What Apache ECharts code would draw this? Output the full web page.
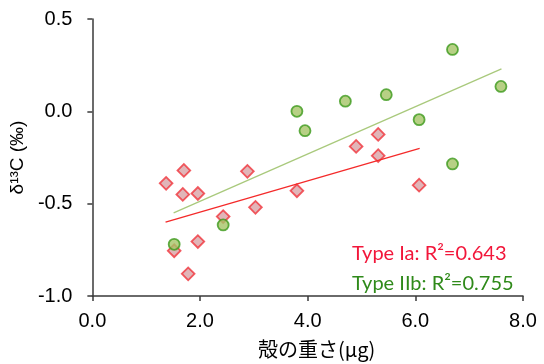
<!DOCTYPE html>
<html>
<head>
<meta charset="utf-8">
<script src="https://cdn.jsdelivr.net/npm/echarts@6/dist/echarts.min.js"></script>
<style>
  html, body { margin: 0; padding: 0; background: #fff; }
  #chart { width: 544px; height: 364px; }
</style>
</head>
<body>
<div id="chart"></div>
<script>
// Type Ia (red diamonds): [weight, d13C]
var typeIa = [
    [1.37, -0.39], [1.70, -0.32], [1.68, -0.45], [1.96, -0.445], [2.88, -0.325],
    [2.43, -0.57], [3.03, -0.52], [3.80, -0.43], [4.90, -0.19], [5.31, -0.24],
    [5.31, -0.125], [6.07, -0.40], [1.52, -0.755], [1.96, -0.705], [1.78, -0.88]
];
// Type IIb (green circles)
var typeIIb = [
    [6.69, 0.335], [7.59, 0.135], [3.80, 0.0], [3.95, -0.105], [4.70, 0.055],
    [5.46, 0.09], [6.07, -0.045], [6.69, -0.285], [2.43, -0.615], [1.52, -0.72]
];
// trend lines (end points)
var trendIa = [[1.36, -0.60], [6.08, -0.20]];
var trendIIb = [[1.51, -0.55], [7.60, 0.23]];

var xTicks = [0, 2, 4, 6, 8];
var yTicks = [-1.0, -0.5, 0.0, 0.5];
var labelIa = 'Type Ia: R²=0.643';
var labelIIb = 'Type IIb: R²=0.755';

var myChart = echarts.init(document.getElementById('chart'));

var axisLineStyle = { color: '#3a3a3a', width: 1.5 };
var tickFont = { color: '#000', fontSize: 20, fontFamily: '"Liberation Sans", Arial, sans-serif' };

var option = {
    animation: false,
    grid: { left: 91, right: 21, top: 19, bottom: 64 },
    xAxis: {
        type: 'value',
        min: xTicks[0],
        max: xTicks[xTicks.length - 1],
        interval: 2,
        name: '殻の重さ(μg)',
        nameLocation: 'middle',
        nameGap: 43,
        nameTextStyle: { color: '#000', fontSize: 20, padding: [0, 0, 0, 18], fontFamily: '"Noto Sans CJK JP"' },
        axisLine: { onZero: false, lineStyle: axisLineStyle },
        axisTick: { length: 5, lineStyle: axisLineStyle },
        axisLabel: Object.assign({ margin: 15, formatter: function (v) { return v.toFixed(1); } }, tickFont),
        splitLine: { show: false }
    },
    yAxis: {
        type: 'value',
        min: yTicks[0],
        max: yTicks[yTicks.length - 1],
        interval: 0.5,
        name: 'δ¹³C (‰)',
        nameLocation: 'middle',
        nameGap: 51,
        nameTextStyle: { color: '#000', fontSize: 19, fontFamily: '"Liberation Sans", Arial, sans-serif' },
        axisLine: { onZero: false, lineStyle: axisLineStyle },
        axisTick: { length: 5, lineStyle: axisLineStyle },
        axisLabel: Object.assign({ margin: 20, formatter: function (v) { return v.toFixed(1); } }, tickFont),
        splitLine: { show: false }
    },
    series: [
        {
            name: 'Type Ia',
            type: 'scatter',
            data: typeIa,
            symbol: 'rect',
            symbolRotate: 45,
            symbolSize: 9,
            itemStyle: { color: '#d9a3a6', borderColor: '#f0343c', borderWidth: 1.8 },
            z: 2
        },
        {
            name: 'Type IIb',
            type: 'scatter',
            data: typeIIb,
            symbol: 'circle',
            symbolSize: 11,
            itemStyle: { color: '#a5c466', borderColor: '#3c9a1c', borderWidth: 1.8 },
            z: 3
        },
        {
            type: 'line',
            data: trendIa,
            showSymbol: false,
            lineStyle: { color: '#f42a2a', width: 1.3 },
            z: 4
        },
        {
            type: 'line',
            data: trendIIb,
            showSymbol: false,
            lineStyle: { color: '#a9c97c', width: 1.3 },
            z: 4
        }
    ],
    graphic: [
        {
            type: 'text',
            left: 352,
            top: 244,
            style: { text: labelIa, fill: '#f2163a', fontSize: 20, fontFamily: 'Lato, "Open Sans", sans-serif' }
        },
        {
            type: 'text',
            left: 352,
            top: 274,
            style: { text: labelIIb, fill: '#2f8a1a', fontSize: 20, fontFamily: 'Lato, "Open Sans", sans-serif' }
        }
    ]
};

myChart.setOption(option);
</script>
</body>
</html>
